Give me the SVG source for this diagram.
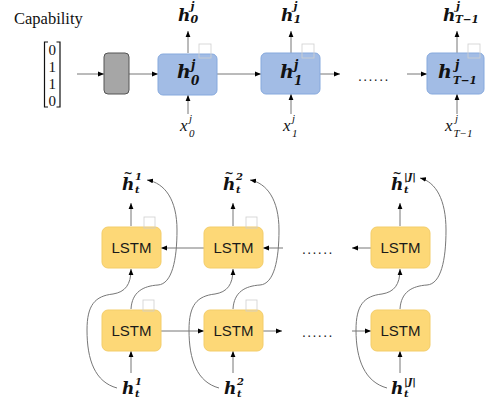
<svg xmlns="http://www.w3.org/2000/svg" width="485" height="402" viewBox="0 0 485 402">
<style>
.ser{font-family:"Liberation Serif","Times New Roman",serif;fill:#111}
.m{font-family:"DejaVu Serif","Liberation Serif",serif;font-weight:bold;font-style:italic;fill:#111}
.mi{font-family:"Liberation Serif","Times New Roman",serif;font-style:italic;fill:#111}
.blue{fill:#a2bce5;stroke:#86a9dd;stroke-width:1}
.yel{fill:#fdd877;stroke:#f3cd6a;stroke-width:1}
.gray{fill:#a6a6a6;stroke:#555;stroke-width:1}
.sq{fill:none;stroke:#cfcfcf;stroke-width:0.8}
.lstm{font-family:"Liberation Sans",Arial,sans-serif;font-size:15px;fill:#1a1a1a;text-anchor:middle}
.c{stroke:#777;stroke-width:1;fill:none;marker-end:url(#ah)}
.dots{font-family:"Liberation Sans",Arial,sans-serif;font-size:14px;fill:#222;letter-spacing:1.4px}
.tl{font-size:11px;font-style:normal}
</style>
<defs>
<marker id="ah" viewBox="0 0 6 6" refX="6" refY="3" markerWidth="6" markerHeight="6" markerUnits="userSpaceOnUse" orient="auto"><path d="M0,0.6 L6,3 L0,5.4 z" fill="#000"/></marker>
</defs>

<g id="capability">
<text class="ser" x="14" y="24" font-size="16.5">Capability</text>
</g>
<g id="vector">
<path d="M48,42 H44.5 V107 H48 M56.5,42 H60 V107 H56.5" fill="none" stroke="#111" stroke-width="1.2"/>
<text class="ser" font-size="15" text-anchor="middle"><tspan x="52.3" y="55">0</tspan><tspan x="52.3" y="72">1</tspan><tspan x="52.3" y="89">1</tspan><tspan x="52.3" y="106">0</tspan></text>
</g>

<g id="connectors">
<line class="c" x1="77" y1="74" x2="104" y2="74"/>
<line class="c" x1="129" y1="74" x2="158" y2="74"/>
<line class="c" x1="217" y1="74" x2="261" y2="74"/>
<line class="c" x1="320" y1="74" x2="340" y2="74"/>
<line class="c" x1="407" y1="74" x2="427" y2="74"/>
<line class="c" x1="188" y1="53" x2="188" y2="31"/>
<line class="c" x1="291" y1="53" x2="291" y2="31"/>
<line class="c" x1="457" y1="53" x2="457" y2="31"/>
<line class="c" x1="188" y1="114" x2="188" y2="95"/>
<line class="c" x1="291" y1="114" x2="291" y2="94"/>
<line class="c" x1="457" y1="114" x2="457" y2="94"/>

<line class="c" x1="204" y1="248" x2="161" y2="248"/>
<line class="c" x1="283" y1="248" x2="263" y2="248"/>
<line class="c" x1="371" y1="248" x2="352" y2="248"/>
<line class="c" x1="161" y1="331" x2="204" y2="331"/>
<line class="c" x1="263" y1="331" x2="282" y2="331"/>
<line class="c" x1="352" y1="331" x2="371" y2="331"/>
<line class="c" x1="131" y1="226" x2="131" y2="203"/>
<line class="c" x1="233" y1="226" x2="233" y2="203"/>
<line class="c" x1="400" y1="226" x2="400" y2="203"/>
<line class="c" x1="131" y1="373" x2="131" y2="351"/>
<line class="c" x1="233" y1="373" x2="233" y2="351"/>
<line class="c" x1="400" y1="373" x2="400" y2="351"/>

<path class="c" d="M117,388 C95,382 87,360 87,330 C87,305 95,296 113,294 C125,292 131,285 131,269"/>
<path class="c" d="M219,388 C197,382 189,360 189,330 C189,305 197,296 215,294 C227,292 233,285 233,269"/>
<path class="c" d="M387,388 C365,382 356,360 356,330 C356,305 364,296 382,294 C394,292 400,285 400,269"/>
<path class="c" d="M131,309 C132,292 143,286 158,285 C172,284 177,260 177,230 C177,200 165,183 147,180"/>
<path class="c" d="M233,309 C234,292 245,286 260,285 C274,284 279,260 279,230 C279,200 267,183 250,180"/>
<path class="c" d="M400,309 C401,292 412,286 427,285 C441,284 446,260 446,230 C446,200 436,182 420,178"/>
</g>

<g id="encoder">
<rect class="gray" x="104" y="53" width="25" height="41" rx="4"/>
</g>

<g id="node-h0">
<rect class="blue" x="158" y="54" width="59" height="41" rx="5"/>
<rect class="sq" x="199" y="44" width="12" height="14"/>
<text class="m"><tspan x="177" y="78" font-size="19">h</tspan><tspan x="191" y="69" font-size="12">j</tspan><tspan x="191" y="85" font-size="12">0</tspan></text>
</g>
<g id="node-h1">
<rect class="blue" x="261" y="53" width="59" height="41" rx="5"/>
<rect class="sq" x="302" y="44" width="12" height="14"/>
<text class="m"><tspan x="280" y="78" font-size="19">h</tspan><tspan x="294" y="69" font-size="12">j</tspan><tspan x="294" y="85" font-size="12">1</tspan></text>
</g>
<g id="node-hT">
<rect class="blue" x="427" y="53" width="57" height="41" rx="5"/>
<rect class="sq" x="468" y="44" width="12" height="14"/>
<text class="m"><tspan x="438" y="78" font-size="19">h</tspan><tspan x="455" y="69" font-size="12">j</tspan><tspan x="453" y="84" font-size="10.5">T−1</tspan></text>
</g>

<g id="labels-top">
<text class="m"><tspan x="178" y="21" font-size="17">h</tspan><tspan x="190.5" y="10" font-size="11">j</tspan><tspan x="190.5" y="23" font-size="11">0</tspan></text>
<text class="m"><tspan x="281" y="21" font-size="17">h</tspan><tspan x="293.5" y="10" font-size="11">j</tspan><tspan x="293.5" y="23" font-size="11">1</tspan></text>
<text class="m"><tspan x="443" y="21" font-size="17">h</tspan><tspan x="456" y="10" font-size="11">j</tspan><tspan x="455" y="23" font-size="10.5">T−1</tspan></text>
<text class="mi"><tspan x="180" y="131" font-size="17">x</tspan><tspan x="189" y="122" font-size="11">j</tspan><tspan x="189" y="137" font-size="11">0</tspan></text>
<text class="mi"><tspan x="283" y="131" font-size="17">x</tspan><tspan x="292" y="122" font-size="11">j</tspan><tspan x="292" y="137" font-size="11">1</tspan></text>
<text class="mi"><tspan x="445" y="131" font-size="17">x</tspan><tspan x="455" y="122" font-size="11">j</tspan><tspan x="453.5" y="137" font-size="11">T−1</tspan></text>
<text class="dots" x="358" y="81">......</text>
</g>

<g id="lstm-top-1">
<rect class="yel" x="102" y="227" width="59" height="41" rx="6"/>
<rect class="sq" x="144" y="217" width="11" height="11"/>
<text class="lstm" x="131.5" y="253">LSTM</text>
</g>
<g id="lstm-top-2">
<rect class="yel" x="204" y="227" width="59" height="41" rx="6"/>
<rect class="sq" x="246" y="217" width="11" height="11"/>
<text class="lstm" x="233.5" y="253">LSTM</text>
</g>
<g id="lstm-top-3">
<rect class="yel" x="371" y="227" width="59" height="41" rx="6"/>
<text class="lstm" x="400.5" y="253">LSTM</text>
</g>
<g id="lstm-bot-1">
<rect class="yel" x="102" y="310" width="59" height="41" rx="6"/>
<rect class="sq" x="143" y="300" width="11" height="11"/>
<text class="lstm" x="131.5" y="336">LSTM</text>
</g>
<g id="lstm-bot-2">
<rect class="yel" x="204" y="310" width="59" height="41" rx="6"/>
<rect class="sq" x="246" y="300" width="11" height="11"/>
<text class="lstm" x="233.5" y="336">LSTM</text>
</g>
<g id="lstm-bot-3">
<rect class="yel" x="371" y="310" width="59" height="41" rx="6"/>
<text class="lstm" x="400.5" y="336">LSTM</text>
</g>

<g id="labels-bottom">
<text class="m"><tspan class="tl" x="123.5" y="176.5">~</tspan><tspan x="122" y="190" font-size="17">h</tspan><tspan x="135" y="180" font-size="10">1</tspan><tspan x="135" y="192.5" font-size="10">t</tspan></text>
<text class="m"><tspan class="tl" x="224.5" y="176.5">~</tspan><tspan x="223" y="190" font-size="17">h</tspan><tspan x="236" y="180" font-size="10">2</tspan><tspan x="236" y="192.5" font-size="10">t</tspan></text>
<text class="m"><tspan class="tl" x="392.5" y="176.5">~</tspan><tspan x="391" y="190" font-size="17">h</tspan><tspan x="404" y="180" font-size="10">|J|</tspan><tspan x="404" y="192.5" font-size="10">t</tspan></text>
<text class="m"><tspan x="122" y="394" font-size="17">h</tspan><tspan x="135" y="385" font-size="10">1</tspan><tspan x="135" y="396.5" font-size="10">t</tspan></text>
<text class="m"><tspan x="224" y="394" font-size="17">h</tspan><tspan x="237" y="385" font-size="10">2</tspan><tspan x="237" y="396.5" font-size="10">t</tspan></text>
<text class="m"><tspan x="391" y="394" font-size="17">h</tspan><tspan x="404" y="385" font-size="10">|J|</tspan><tspan x="404" y="396.5" font-size="10">t</tspan></text>
<text class="dots" x="302" y="254">......</text>
<text class="dots" x="302" y="337">......</text>
</g>
</svg>
